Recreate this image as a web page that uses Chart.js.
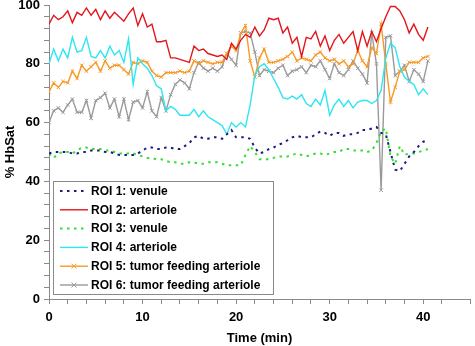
<!DOCTYPE html>
<html><head><meta charset="utf-8">
<script src="https://cdn.jsdelivr.net/npm/chart.js@4/dist/chart.umd.min.js"></script>
<style>html,body{margin:0;padding:0;background:#fff;} #wrap{width:475px;height:346px;position:relative}</style>
</head><body><div id="wrap"><canvas id="c" width="475" height="346"></canvas></div>
<script>
const times = [0,0.5,1,1.5,2,2.5,3,3.5,4,4.5,5,5.5,6,6.5,7,7.5,8,8.5,9,9.5,
10,10.5,11,11.5,12,12.5,13,13.5,14,14.5,15,15.5,16,16.5,17,17.5,18,18.5,19,19.5,
20,20.5,21,21.5,22,22.5,23,23.5,24,24.5,25,25.5,26,26.5,27,27.5,28,28.5,29,29.5,
30,30.5,31,31.5,32,32.5,33,33.5,34,34.5,35,35.5,36,36.5,37,37.5,38,38.5,39,39.5,
40,40.5];

const roi1Venule = [49.5,50,50,50,50,49.5,49.5,50,50,50.5, 50.5,50.5,50,50,49.5,49,49,49,49,49.5,
50.5,51.5,51.5,51,51,51.5,51.5,51,51,52, 53,55,55.5,54.5,54.5,55,55,54.5,56,57.5,
55,55,55,54.5,51.5,49.5,50,51,51.5,52.5, 53,54,55,55.5,55,55,55,56,57,56.5,
55.5,56.5,56.5,55.5,56,56,56.5,57.5,57.5,58, 58.5,56.5,56,50,44,43.5,46,48.5,50,52,
53.5,54];

const roi2Arteriole = [93.5,96.5,95,96,98,94,97.5,96.5,99,96.5, 98.5,95,98,95.5,97.5,96,94.5,97,99,93,
97,92.5,93.5,87.5,87.5,88,82,82,81.5,81, 80.5,86,84.5,85,83.5,83,82.5,83,81.5,87,
85,88,90,89,92.5,89.5,91.5,95.5,95,95.5, 90.5,92.5,87,89,82.5,89,88.5,91,86,89.5,
84.5,88,90,87,89,91,84.5,91,86,91, 87.5,92,96,99.5,99.5,98,95,90.5,93.5,90,
88,92.5];

const roi3Venule = [49.5,48,49.5,50,50,49.5,50.5,51.5,51.5,51, 51,51,50.5,50.5,50,49.5,49.5,49.5,49.5,49,
48.5,48,48,47.5,47.5,47,46.5,46.5,46,46, 46.5,46.5,46,46,46.5,46.5,46.5,46,45.5,45.5,
45.5,45.5,49,52,50,47.5,47.5,47.5,48,48.5, 48.5,48.5,49,49.5,49,48.5,49,49.5,49.5,49,
49.5,50,50,51,51,50.5,50.5,50.5,50,50.5, 53,57,58,48.5,46,52,49,49.5,49.5,50,
50.5,51];

const roi4Arteriole = [80,85,81,85,82,89,84,84.5,89,82.5, 82,84.5,82,86,83,84.5,80.5,88.5,73,82,
80,78.5,76,72.5,71.5,64,65.5,64.5,62.5,62.5, 62.5,64.5,62,64,62,61,60,59,56,60,
58.5,60,58.5,66,76,79,80,78,75,72, 68.5,68,69,68,69.5,66.5,65.5,68,66,71,
62.5,66,68,65.5,67.5,65,67,67.5,67.5,66.5, 67.5,71,82,87,85.5,79,75.5,74,73,69.5,
71.5,69.5];

const roi5Feeding = [70.5,73.5,72,74,73.5,77.5,75,79.5,77.5,79, 80.5,77.5,81,78.5,79.5,79.5,78,76.5,80.5,80,
81,80.5,77.5,76,75.5,77,77,77,77.5,77, 77.5,81,80,81,80.5,80,80.5,80.5,83.5,86,
84.5,90.5,93,81,75.5,82,85,80.5,80.5,81, 81.5,82.5,84,81,82,81.5,81,83,84,82,
81,81.5,80,81,79,80,84.5,81,79,85.5, 83.5,93.5,80,67,72,77.5,78,80.5,80.5,80.5,
82,82.5];

const roi6Feeding = [60,64,65,63.5,66,68,63.5,63.5,67.5,61.5, 67.5,68.5,70,65,68,62,68,61,67,67.5,
65,70.5,64,62,68.5,64,69.5,73,74.5,73.5, 71.5,77,80.5,78.5,77.5,78.5,77.5,79,83.5,81.5,
79.5,90.5,91,90.5,84,76,78,77.5,77,78.5, 79.5,76,77.5,78,79,77,79.5,79,81,78,
75,80,77,76,78,81,78.5,76.5,73.5,90.5, 80,37,89,89.5,76,77.5,79.5,74,78,76.5,
74,81];

const seriesLabels = ['ROI 1: venule','ROI 2: arteriole','ROI 3: venule','ROI 4: arteriole','ROI 5: tumor feeding arteriole','ROI 6: tumor feeding arteriole'];
const xTickLabels = [0,10,20,30,40];
const yTickLabels = [0,20,40,60,80,100];
const xTitle = 'Time (min)';
const yTitle = '% HbSat';

const FONT = "'Liberation Sans', Arial, sans-serif";

function pts(vals){ return vals.map((v,i)=>({x:times[i], y:v})); }

const datasets = [
  {label:seriesLabels[0], data:pts(roi1Venule), borderColor:'#1a1a80', borderWidth:2, borderDash:[2.5,4.5], pointRadius:0},
  {label:seriesLabels[1], data:pts(roi2Arteriole), borderColor:'#e3161c', borderWidth:1.4, pointRadius:0},
  {label:seriesLabels[2], data:pts(roi3Venule), borderColor:'#33e033', borderWidth:2, borderDash:[2.5,4.5], pointRadius:0},
  {label:seriesLabels[3], data:pts(roi4Arteriole), borderColor:'#2ee6f2', borderWidth:1.4, pointRadius:0},
  {label:seriesLabels[4], data:pts(roi5Feeding), borderColor:'#f59a28', borderWidth:1.4, pointStyle:'crossRot', pointRadius:2.5, pointBorderWidth:1, pointBorderColor:'#f59a28'},
  {label:seriesLabels[5], data:pts(roi6Feeding), borderColor:'#9a9a9a', borderWidth:1.4, pointStyle:'crossRot', pointRadius:2.5, pointBorderWidth:1, pointBorderColor:'#9a9a9a'}
];

const boxLegend = {
  id:'boxLegend',
  afterDraw(chart){
    const ctx = chart.ctx, a = chart.chartArea;
    const w = 220, rowH = 18.8, h = 113;
    const x0 = a.left + 4, y0 = a.bottom - 5 - h;
    ctx.save();
    ctx.fillStyle = '#fff';
    ctx.fillRect(x0, y0, w, h);
    ctx.strokeStyle = '#8a8a8a'; ctx.lineWidth = 1;
    ctx.strokeRect(Math.round(x0)+0.5, Math.round(y0)+0.5, w, h);
    chart.data.datasets.forEach((ds,i)=>{
      const cy = y0 + 10 + rowH*i;
      const lx0 = x0 + 7, lx1 = x0 + 35;
      ctx.beginPath();
      ctx.strokeStyle = ds.borderColor;
      ctx.lineWidth = ds.borderWidth;
      ctx.setLineDash(ds.borderDash || []);
      ctx.moveTo(lx0, cy); ctx.lineTo(lx1, cy); ctx.stroke();
      ctx.setLineDash([]);
      if (ds.pointStyle === 'crossRot') {
        const mx = (lx0+lx1)/2, r = 2.5;
        ctx.lineWidth = 1;
        ctx.beginPath();
        ctx.moveTo(mx-r, cy-r); ctx.lineTo(mx+r, cy+r);
        ctx.moveTo(mx-r, cy+r); ctx.lineTo(mx+r, cy-r);
        ctx.stroke();
      }
      ctx.fillStyle = '#000';
      ctx.font = 'bold 12px ' + FONT;
      ctx.textBaseline = 'middle';
      ctx.textAlign = 'left';
      ctx.fillText(ds.label, x0 + 38, cy + 0.5);
    });
    ctx.restore();
  }
};

new Chart(document.getElementById('c'), {
  type:'line',
  data:{datasets},
  options:{
    responsive:false,
    animation:false,
    devicePixelRatio:1,
    layout:{padding:{top:5, right:1, left:0, bottom:0}},
    elements:{line:{tension:0, fill:false}},
    plugins:{legend:{display:false}, tooltip:{enabled:false}},
    scales:{
      x:{
        type:'linear', min:0, max:45,
        afterFit(s){ s.height = 47; s.paddingRight = 0; s.paddingLeft = 0; },
        ticks:{stepSize:2, autoSkip:false, maxRotation:0, padding:6, color:'#000',
          font:{family:FONT, size:13, weight:'bold'},
          callback:(v)=> (xTickLabels.includes(v) ? String(v) : '')},
        grid:{display:true, drawOnChartArea:false, drawTicks:true, tickLength:5, color:'#8a8a8a'},
        border:{display:true, color:'#8a8a8a', width:1},
        title:{display:true, text:xTitle, color:'#000', font:{family:FONT, size:13, weight:'bold'}, padding:{top:0,bottom:0}}
      },
      y:{
        min:0, max:100,
        afterFit(s){ s.width = 49; s.paddingTop = 0; s.paddingBottom = 0; },
        ticks:{stepSize:4, autoSkip:false, padding:4, color:'#000',
          font:{family:FONT, size:13, weight:'bold'},
          callback:(v)=> (yTickLabels.includes(v) ? String(v) : '')},
        grid:{display:true, drawOnChartArea:false, drawTicks:true, tickLength:5, color:'#8a8a8a'},
        border:{display:true, color:'#8a8a8a', width:1},
        title:{display:true, text:yTitle, color:'#000', font:{family:FONT, size:13, weight:'bold'}, padding:{top:3,bottom:0}}
      }
    }
  },
  plugins:[boxLegend]
});
</script></body></html>
